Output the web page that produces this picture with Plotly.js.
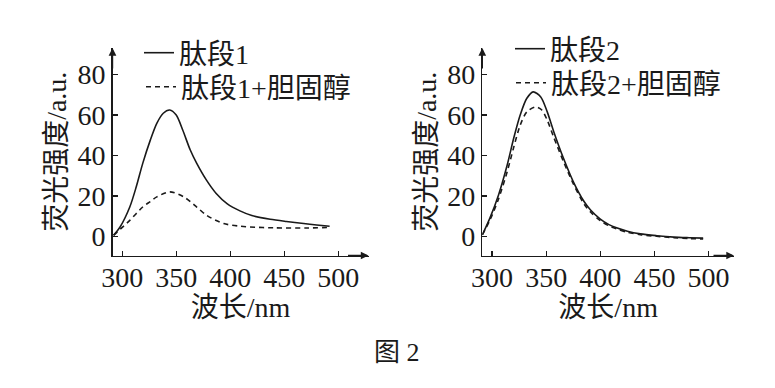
<!DOCTYPE html>
<html>
<head>
<meta charset="utf-8">
<script src="https://cdn.plot.ly/plotly-3.0.1.min.js"></script>
<style>html,body{margin:0;padding:0;background:#fff;}#chart{width:775px;height:388px;}</style>
</head>
<body>
<div id="chart"></div>
<script>
// ---- data ----
const wl1Solid = [292, 298, 307, 313, 319, 326, 332, 338, 344, 350, 356, 363, 369, 378, 387, 397, 409, 420, 437, 452, 468, 480, 492];
const int1Solid = [0.5, 4.6, 14.5, 24.5, 36.1, 47.6, 55.9, 60.9, 62.5, 60.0, 52.6, 42.7, 36.1, 27.8, 21.2, 16.2, 12.6, 10.3, 8.4, 7.3, 6.3, 5.6, 5.0];

const wl1Dash = [292, 307, 319, 326, 332, 344, 357, 369, 378, 394, 409, 418, 440, 470, 492];
const int1Dash = [0.5, 7.9, 14.5, 17.2, 19.5, 22.0, 19.5, 14.5, 10.4, 6.3, 5.0, 4.6, 4.2, 4.1, 4.4];

const wl2Solid = [291, 298, 306, 314, 320, 326, 332, 338, 345, 351, 357, 366, 375, 385, 391, 400, 408, 415, 425, 437, 452, 468, 482, 495];
const int2Solid = [0.7, 9.0, 20.5, 35.3, 48.5, 60.0, 68.2, 71.5, 69.0, 61.6, 51.8, 38.6, 27.1, 17.2, 13.0, 8.5, 5.8, 4.2, 2.5, 1.2, 0.3, -0.4, -0.7, -0.9];

const wl2Dash = [291, 298, 306, 314, 320, 326, 332, 340, 346, 351, 357, 366, 375, 385, 391, 400, 408, 415, 425, 437, 452, 468, 482, 495];
const int2Dash = [0.7, 8.0, 18.5, 32.0, 44.0, 55.0, 61.5, 64.0, 62.5, 57.5, 49.0, 37.0, 26.0, 16.0, 12.0, 7.8, 5.2, 3.7, 2.0, 0.8, 0.0, -0.7, -1.1, -1.3];

const names = ['肽段1', '肽段1+胆固醇', '肽段2', '肽段2+胆固醇'];
const xTickVals = [300, 350, 400, 450, 500];
const yTickVals = [0, 20, 40, 60, 80];
const xTitle = '波长/nm';
const yTitle = '荧光强度/a.u.';
const figCaption = '图 2';

// ---- styling ----
const FONT = '"Liberation Serif", "Times New Roman", "Noto Sans CJK SC", serif';
const INK = '#1a1a1a';
const solid = {color: INK, width: 1.6, shape: 'spline', smoothing: 0.8};
const dashed = {color: INK, width: 1.6, dash: '5px,4px', shape: 'spline', smoothing: 0.8};

const traces = [
  {x: wl1Solid, y: int1Solid, name: names[0], mode: 'lines', line: solid, xaxis: 'x', yaxis: 'y', legend: 'legend'},
  {x: wl1Dash, y: int1Dash, name: names[1], mode: 'lines', line: dashed, xaxis: 'x', yaxis: 'y', legend: 'legend2'},
  {x: wl2Solid, y: int2Solid, name: names[2], mode: 'lines', line: solid, xaxis: 'x2', yaxis: 'y2', legend: 'legend3'},
  {x: wl2Dash, y: int2Dash, name: names[3], mode: 'lines', line: dashed, xaxis: 'x2', yaxis: 'y2', legend: 'legend4'}
];

function xAxis(domain, range, anchor) {
  return {
    domain: domain, range: range, anchor: anchor, automargin: false,
    showline: true, linecolor: INK, linewidth: 1.4, showgrid: false, zeroline: false,
    ticks: 'inside', ticklen: 5, tickwidth: 1.3, tickcolor: INK,
    tickvals: xTickVals, tickfont: {family: FONT, size: 28, color: INK}, ticklabelstandoff: -4,
    title: {text: xTitle, font: {family: FONT, size: 28, color: INK}, standoff: 2}
  };
}
function yAxis(domain, range, anchor) {
  return {
    domain: domain, range: range, anchor: anchor, automargin: false,
    showline: true, linecolor: INK, linewidth: 1.4, showgrid: false, zeroline: false,
    ticks: 'inside', ticklen: 5, tickwidth: 1.3, tickcolor: INK,
    tickvals: yTickVals, tickfont: {family: FONT, size: 28, color: INK},
    title: {text: yTitle, font: {family: FONT, size: 28, color: INK}, standoff: 2}
  };
}

const yDom = [1 - 255.5 / 388, 1 - 48 / 388];
const yRange = [-9.5, 93.2];
const x1Range = [291, 528];
const x2Range = [291, 523.5];

function arrow(xref, yref, x, y, ax, ay) {
  return {xref: xref, yref: yref, x: x, y: y, ax: ax, ay: ay, text: '', showarrow: true,
          arrowhead: 2, arrowsize: 1.1, arrowwidth: 1.4, arrowcolor: INK, standoff: 0};
}

function legendAt(px, py) {
  return {
    x: px / 775, y: 1 - py / 388, xanchor: 'left', yanchor: 'middle',
    font: {family: FONT, size: 28, color: INK}, bgcolor: 'rgba(0,0,0,0)', borderwidth: 0,
    tracegroupgap: 0, itemwidth: 30
  };
}

const layout = {
  width: 775, height: 388,
  margin: {l: 0, r: 0, t: 0, b: 0},
  paper_bgcolor: '#fff', plot_bgcolor: '#fff',
  font: {family: FONT, color: INK},
  showlegend: true,
  xaxis: xAxis([112.5 / 775, 368.5 / 775], x1Range, 'y'),
  yaxis: yAxis(yDom, yRange, 'x'),
  xaxis2: xAxis([482.3 / 775, 734 / 775], x2Range, 'y2'),
  yaxis2: yAxis(yDom, yRange, 'x2'),
  legend: legendAt(139, 53),
  legend2: legendAt(141, 87),
  legend3: legendAt(510, 49),
  legend4: legendAt(511, 83),
  annotations: [
    arrow('x', 'y', x1Range[1], yRange[0], -22, 0),
    arrow('x', 'y', x1Range[0], yRange[1], 0, 22),
    arrow('x2', 'y2', x2Range[1], yRange[0], -22, 0),
    arrow('x2', 'y2', x2Range[0], yRange[1], 0, 22),
    {xref: 'paper', yref: 'paper', x: 397 / 775, y: 1 - 352 / 388, xanchor: 'center', yanchor: 'middle',
     text: figCaption, showarrow: false, font: {family: FONT, size: 26, color: INK}}
  ]
};

Plotly.newPlot('chart', traces, layout, {staticPlot: true, displayModeBar: false});
</script>
</body>
</html>
